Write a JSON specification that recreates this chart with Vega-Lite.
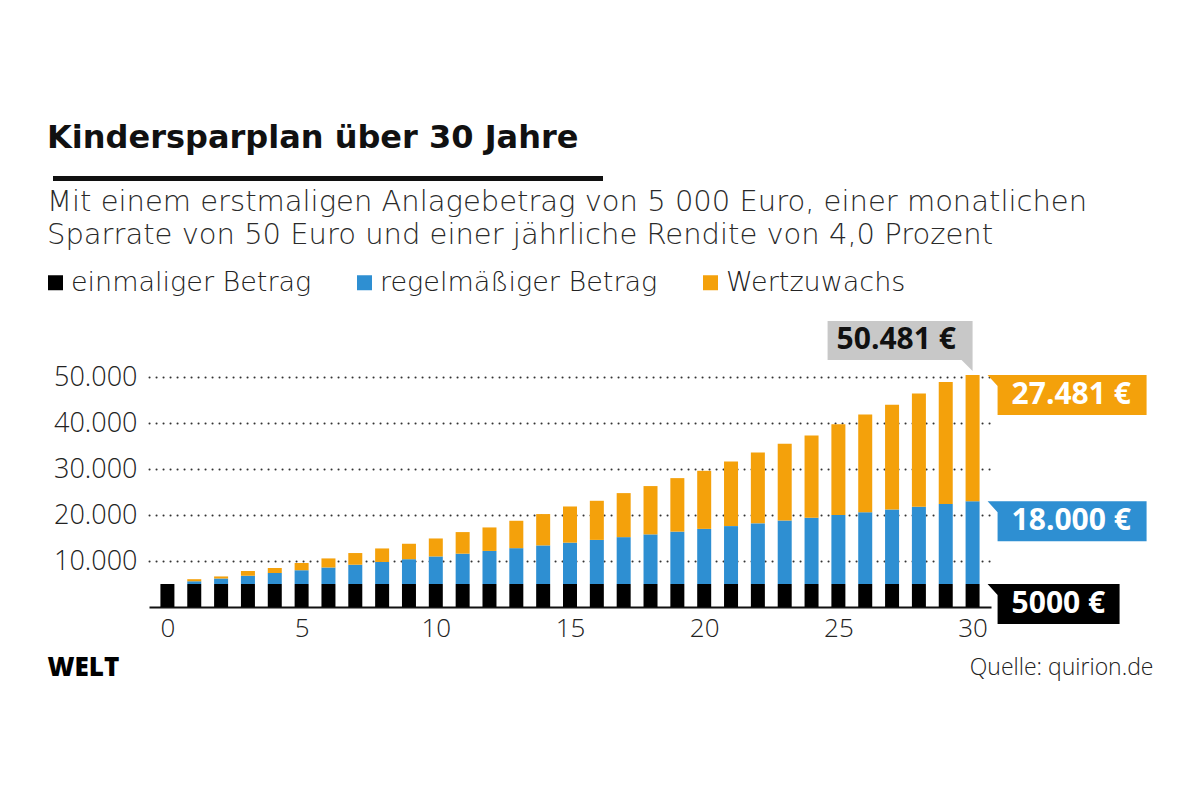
{
  "$schema": "https://vega.github.io/schema/vega-lite/v6.json",
  "width": 842,
  "height": 239,
  "autosize": "none",
  "padding": {"left": 149, "top": 368, "right": 209, "bottom": 193},
  "background": "white",
  "config": {
    "view": {"stroke": null},
    "font": "Open Sans",
    "text": {"font": "Open Sans"}
  },
  "title": {
    "text": "Kindersparplan über 30 Jahre",
    "subtitle": [
      "Mit einem erstmaligen Anlagebetrag von 5 000 Euro, einer monatlichen",
      "Sparrate von 50 Euro und einer jährliche Rendite von 4,0 Prozent"
    ],
    "anchor": "start",
    "frame": "group",
    "dx": -102,
    "dy": 192,
    "offset": 117,
    "font": "DejaVu Sans",
    "fontSize": 32,
    "fontWeight": "bold",
    "color": "#111111",
    "subtitleFont": "DejaVu Sans",
    "subtitleFontSize": 29,
    "subtitleFontWeight": 200,
    "subtitleColor": "#2a2a2a",
    "subtitleLineHeight": 33,
    "subtitlePadding": 33
  },
  "data": {
    "values": [
      {"jahr": 0, "anteil": "einmaliger Betrag", "rang": 1, "euro": 5000},
      {"jahr": 0, "anteil": "regelmäßiger Betrag", "rang": 2, "euro": 0},
      {"jahr": 0, "anteil": "Wertzuwachs", "rang": 3, "euro": 0},
      {"jahr": 1, "anteil": "einmaliger Betrag", "rang": 1, "euro": 5000},
      {"jahr": 1, "anteil": "regelmäßiger Betrag", "rang": 2, "euro": 600},
      {"jahr": 1, "anteil": "Wertzuwachs", "rang": 3, "euro": 450},
      {"jahr": 2, "anteil": "einmaliger Betrag", "rang": 1, "euro": 5000},
      {"jahr": 2, "anteil": "regelmäßiger Betrag", "rang": 2, "euro": 1200},
      {"jahr": 2, "anteil": "Wertzuwachs", "rang": 3, "euro": 450},
      {"jahr": 3, "anteil": "einmaliger Betrag", "rang": 1, "euro": 5000},
      {"jahr": 3, "anteil": "regelmäßiger Betrag", "rang": 2, "euro": 1800},
      {"jahr": 3, "anteil": "Wertzuwachs", "rang": 3, "euro": 1030},
      {"jahr": 4, "anteil": "einmaliger Betrag", "rang": 1, "euro": 5000},
      {"jahr": 4, "anteil": "regelmäßiger Betrag", "rang": 2, "euro": 2400},
      {"jahr": 4, "anteil": "Wertzuwachs", "rang": 3, "euro": 1080},
      {"jahr": 5, "anteil": "einmaliger Betrag", "rang": 1, "euro": 5000},
      {"jahr": 5, "anteil": "regelmäßiger Betrag", "rang": 2, "euro": 3000},
      {"jahr": 5, "anteil": "Wertzuwachs", "rang": 3, "euro": 1570},
      {"jahr": 6, "anteil": "einmaliger Betrag", "rang": 1, "euro": 5000},
      {"jahr": 6, "anteil": "regelmäßiger Betrag", "rang": 2, "euro": 3600},
      {"jahr": 6, "anteil": "Wertzuwachs", "rang": 3, "euro": 1970},
      {"jahr": 7, "anteil": "einmaliger Betrag", "rang": 1, "euro": 5000},
      {"jahr": 7, "anteil": "regelmäßiger Betrag", "rang": 2, "euro": 4200},
      {"jahr": 7, "anteil": "Wertzuwachs", "rang": 3, "euro": 2540},
      {"jahr": 8, "anteil": "einmaliger Betrag", "rang": 1, "euro": 5000},
      {"jahr": 8, "anteil": "regelmäßiger Betrag", "rang": 2, "euro": 4800},
      {"jahr": 8, "anteil": "Wertzuwachs", "rang": 3, "euro": 2940},
      {"jahr": 9, "anteil": "einmaliger Betrag", "rang": 1, "euro": 5000},
      {"jahr": 9, "anteil": "regelmäßiger Betrag", "rang": 2, "euro": 5400},
      {"jahr": 9, "anteil": "Wertzuwachs", "rang": 3, "euro": 3360},
      {"jahr": 10, "anteil": "einmaliger Betrag", "rang": 1, "euro": 5000},
      {"jahr": 10, "anteil": "regelmäßiger Betrag", "rang": 2, "euro": 6000},
      {"jahr": 10, "anteil": "Wertzuwachs", "rang": 3, "euro": 3910},
      {"jahr": 11, "anteil": "einmaliger Betrag", "rang": 1, "euro": 5000},
      {"jahr": 11, "anteil": "regelmäßiger Betrag", "rang": 2, "euro": 6600},
      {"jahr": 11, "anteil": "Wertzuwachs", "rang": 3, "euro": 4700},
      {"jahr": 12, "anteil": "einmaliger Betrag", "rang": 1, "euro": 5000},
      {"jahr": 12, "anteil": "regelmäßiger Betrag", "rang": 2, "euro": 7200},
      {"jahr": 12, "anteil": "Wertzuwachs", "rang": 3, "euro": 5110},
      {"jahr": 13, "anteil": "einmaliger Betrag", "rang": 1, "euro": 5000},
      {"jahr": 13, "anteil": "regelmäßiger Betrag", "rang": 2, "euro": 7800},
      {"jahr": 13, "anteil": "Wertzuwachs", "rang": 3, "euro": 5960},
      {"jahr": 14, "anteil": "einmaliger Betrag", "rang": 1, "euro": 5000},
      {"jahr": 14, "anteil": "regelmäßiger Betrag", "rang": 2, "euro": 8400},
      {"jahr": 14, "anteil": "Wertzuwachs", "rang": 3, "euro": 6820},
      {"jahr": 15, "anteil": "einmaliger Betrag", "rang": 1, "euro": 5000},
      {"jahr": 15, "anteil": "regelmäßiger Betrag", "rang": 2, "euro": 9000},
      {"jahr": 15, "anteil": "Wertzuwachs", "rang": 3, "euro": 7870},
      {"jahr": 16, "anteil": "einmaliger Betrag", "rang": 1, "euro": 5000},
      {"jahr": 16, "anteil": "regelmäßiger Betrag", "rang": 2, "euro": 9600},
      {"jahr": 16, "anteil": "Wertzuwachs", "rang": 3, "euro": 8510},
      {"jahr": 17, "anteil": "einmaliger Betrag", "rang": 1, "euro": 5000},
      {"jahr": 17, "anteil": "regelmäßiger Betrag", "rang": 2, "euro": 10200},
      {"jahr": 17, "anteil": "Wertzuwachs", "rang": 3, "euro": 9580},
      {"jahr": 18, "anteil": "einmaliger Betrag", "rang": 1, "euro": 5000},
      {"jahr": 18, "anteil": "regelmäßiger Betrag", "rang": 2, "euro": 10800},
      {"jahr": 18, "anteil": "Wertzuwachs", "rang": 3, "euro": 10510},
      {"jahr": 19, "anteil": "einmaliger Betrag", "rang": 1, "euro": 5000},
      {"jahr": 19, "anteil": "regelmäßiger Betrag", "rang": 2, "euro": 11400},
      {"jahr": 19, "anteil": "Wertzuwachs", "rang": 3, "euro": 11640},
      {"jahr": 20, "anteil": "einmaliger Betrag", "rang": 1, "euro": 5000},
      {"jahr": 20, "anteil": "regelmäßiger Betrag", "rang": 2, "euro": 12000},
      {"jahr": 20, "anteil": "Wertzuwachs", "rang": 3, "euro": 12630},
      {"jahr": 21, "anteil": "einmaliger Betrag", "rang": 1, "euro": 5000},
      {"jahr": 21, "anteil": "regelmäßiger Betrag", "rang": 2, "euro": 12600},
      {"jahr": 21, "anteil": "Wertzuwachs", "rang": 3, "euro": 14050},
      {"jahr": 22, "anteil": "einmaliger Betrag", "rang": 1, "euro": 5000},
      {"jahr": 22, "anteil": "regelmäßiger Betrag", "rang": 2, "euro": 13200},
      {"jahr": 22, "anteil": "Wertzuwachs", "rang": 3, "euro": 15410},
      {"jahr": 23, "anteil": "einmaliger Betrag", "rang": 1, "euro": 5000},
      {"jahr": 23, "anteil": "regelmäßiger Betrag", "rang": 2, "euro": 13800},
      {"jahr": 23, "anteil": "Wertzuwachs", "rang": 3, "euro": 16700},
      {"jahr": 24, "anteil": "einmaliger Betrag", "rang": 1, "euro": 5000},
      {"jahr": 24, "anteil": "regelmäßiger Betrag", "rang": 2, "euro": 14400},
      {"jahr": 24, "anteil": "Wertzuwachs", "rang": 3, "euro": 17910},
      {"jahr": 25, "anteil": "einmaliger Betrag", "rang": 1, "euro": 5000},
      {"jahr": 25, "anteil": "regelmäßiger Betrag", "rang": 2, "euro": 15000},
      {"jahr": 25, "anteil": "Wertzuwachs", "rang": 3, "euro": 19780},
      {"jahr": 26, "anteil": "einmaliger Betrag", "rang": 1, "euro": 5000},
      {"jahr": 26, "anteil": "regelmäßiger Betrag", "rang": 2, "euro": 15600},
      {"jahr": 26, "anteil": "Wertzuwachs", "rang": 3, "euro": 21270},
      {"jahr": 27, "anteil": "einmaliger Betrag", "rang": 1, "euro": 5000},
      {"jahr": 27, "anteil": "regelmäßiger Betrag", "rang": 2, "euro": 16200},
      {"jahr": 27, "anteil": "Wertzuwachs", "rang": 3, "euro": 22780},
      {"jahr": 28, "anteil": "einmaliger Betrag", "rang": 1, "euro": 5000},
      {"jahr": 28, "anteil": "regelmäßiger Betrag", "rang": 2, "euro": 16800},
      {"jahr": 28, "anteil": "Wertzuwachs", "rang": 3, "euro": 24640},
      {"jahr": 29, "anteil": "einmaliger Betrag", "rang": 1, "euro": 5000},
      {"jahr": 29, "anteil": "regelmäßiger Betrag", "rang": 2, "euro": 17400},
      {"jahr": 29, "anteil": "Wertzuwachs", "rang": 3, "euro": 26580},
      {"jahr": 30, "anteil": "einmaliger Betrag", "rang": 1, "euro": 5000},
      {"jahr": 30, "anteil": "regelmäßiger Betrag", "rang": 2, "euro": 18000},
      {"jahr": 30, "anteil": "Wertzuwachs", "rang": 3, "euro": 27481}
    ]
  },
  "layer": [
    {
      "mark": {"type": "bar", "size": 14},
      "encoding": {
        "x": {
          "field": "jahr",
          "type": "quantitative",
          "scale": {"domain": [-0.5, 30.5], "nice": false, "zero": false},
          "axis": {
            "values": [0, 5, 10, 15, 20, 25, 30],
            "format": "d",
            "labelFont": "Open Sans",
            "labelFontSize": 26,
            "labelFontWeight": 300,
            "labelColor": "#222222",
            "labelPadding": 8,
            "labelFlush": false,
            "ticks": false,
            "grid": false,
            "domain": true,
            "domainColor": "#111111",
            "domainWidth": 2,
            "title": "Quelle: quirion.de",
            "titleFont": "Open Sans",
            "titleFontSize": 23,
            "titleFontWeight": 300,
            "titleColor": "#222222",
            "titleAlign": "right",
            "titleBaseline": "middle",
            "titleAnchor": null,
            "titleX": 1004,
            "titleY": 60
          }
        },
        "y": {
          "field": "euro",
          "type": "quantitative",
          "stack": "zero",
          "scale": {"domain": [0, 52000], "nice": false},
          "axis": {
            "values": [10000, 20000, 30000, 40000, 50000],
            "labelExpr": "replace(format(datum.value, ','), ',', '.')",
            "labelFont": "Open Sans",
            "labelFontSize": 27,
            "labelFontWeight": 300,
            "labelColor": "#222222",
            "labelPadding": 12,
            "ticks": false,
            "domain": false,
            "grid": true,
            "gridColor": "#333333",
            "gridWidth": 2,
            "gridCap": "round",
            "gridDash": [0.1, 6.9],
            "title": "WELT",
            "titleFont": "Open Sans",
            "titleFontSize": 26,
            "titleFontWeight": 800,
            "titleColor": "#000000",
            "titleAngle": 0,
            "titleAlign": "left",
            "titleBaseline": "middle",
            "titleAnchor": null,
            "titleX": -102,
            "titleY": 299
          }
        },
        "color": {
          "field": "anteil",
          "type": "nominal",
          "scale": {
            "domain": ["einmaliger Betrag", "regelmäßiger Betrag", "Wertzuwachs"],
            "range": ["#000000", "#2E8FD2", "#F4A10B"]
          },
          "legend": {
            "title": null,
            "orient": "none",
            "direction": "horizontal",
            "legendX": -107,
            "legendY": -99,
            "symbolType": "square",
            "symbolSize": 225,
            "symbolStrokeWidth": 0,
            "symbolOpacity": 1,
            "labelFont": "DejaVu Sans",
            "labelFontSize": 27,
            "labelFontWeight": 200,
            "labelColor": "#222222",
            "labelOffset": 2,
            "labelLimit": 400,
            "columnPadding": 39,
            "padding": 0
          }
        },
        "order": {"field": "rang", "type": "quantitative"}
      }
    },
    {
      "mark": {"type": "rule", "strokeWidth": 4, "color": "#111111", "clip": false},
      "encoding": {
        "x": {"datum": -4.25, "type": "quantitative"},
        "x2": {"datum": 16.21},
        "y": {"datum": 93300, "type": "quantitative"}
      }
    },
    {
      "transform": [
        {"filter": "datum.jahr == 30"},
        {"stack": "euro", "groupby": ["jahr"], "sort": [{"field": "rang", "order": "ascending"}], "as": ["unten", "oben"]}
      ],
      "encoding": {
        "x": {"field": "jahr", "type": "quantitative"},
        "y": {"field": "oben", "type": "quantitative"}
      },
      "layer": [
        {
          "transform": [{"filter": "datum.rang == 3"}],
          "mark": {"type": "point", "filled": true, "opacity": 1, "size": 4, "strokeWidth": 0, "color": "#F4A10B",
            "shape": "M15,0 L174,0 L174,40 L25,40 L25,11 Z"}
        },
        {
          "transform": [{"filter": "datum.rang == 2"}],
          "mark": {"type": "point", "filled": true, "opacity": 1, "size": 4, "strokeWidth": 0, "color": "#2E8FD2",
            "shape": "M15,0 L174,0 L174,40 L25,40 L25,11 Z"}
        },
        {
          "transform": [{"filter": "datum.rang == 1"}],
          "mark": {"type": "point", "filled": true, "opacity": 1, "size": 4, "strokeWidth": 0, "color": "#000000",
            "shape": "M15,0 L147,0 L147,40 L25,40 L25,11 Z"}
        },
        {
          "transform": [{"filter": "datum.rang == 3"}],
          "mark": {"type": "point", "filled": true, "opacity": 1, "size": 4, "strokeWidth": 0, "color": "#C8C8C8",
            "shape": "M-145,-54 L0,-54 L0,-4 L-11,-15 L-145,-15 Z"}
        },
        {
          "transform": [
            {"calculate": "(datum.euro >= 10000 ? replace(format(datum.euro, ','), ',', '.') : format(datum.euro, 'd')) + ' €'", "as": "etikett"}
          ],
          "mark": {"type": "text", "align": "left", "baseline": "middle", "dx": 39, "dy": 20,
            "font": "Open Sans", "fontSize": 30, "fontWeight": "bold", "color": "#ffffff"},
          "encoding": {"text": {"field": "etikett"}}
        },
        {
          "transform": [
            {"filter": "datum.rang == 3"},
            {"calculate": "replace(format(datum.oben, ','), ',', '.') + ' €'", "as": "summe"}
          ],
          "mark": {"type": "text", "align": "left", "baseline": "middle", "dx": -136, "dy": -35,
            "font": "Open Sans", "fontSize": 30, "fontWeight": "bold", "color": "#111111"},
          "encoding": {"text": {"field": "summe"}}
        }
      ]
    }
  ]
}
